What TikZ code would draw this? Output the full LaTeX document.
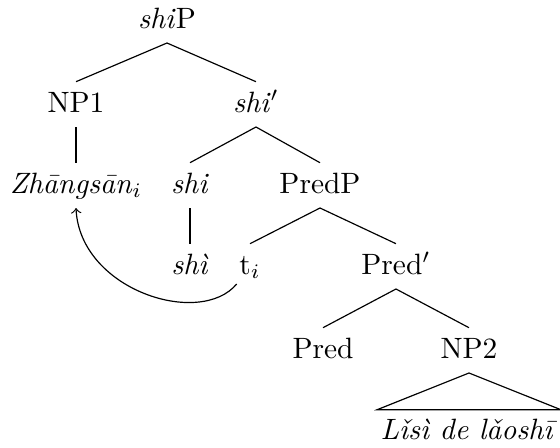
\documentclass[tikz,border=0pt]{standalone}
\usepackage{fontspec}
\begin{document}
\begin{tikzpicture}[x=0.34pt,y=-0.34pt,
  lab/.style={anchor=base,text height=7pt,text depth=1.8pt,inner sep=3.1pt}]
\useasboundingbox (0,0) rectangle (560,448);
\node[lab] (shiP) at (167,28) {\textit{shi}P};
\node[lab] (NP1) at (76,112) {NP1};
\node[lab] (shibar) at (256,112) {\textit{shi}$'$};
\node[lab] (Zh) at (76,193) {\textit{Zhāngsān}$_i$};
\node[lab] (shi) at (190,193) {\textit{shi}};
\node[lab] (PredP) at (320,193) {PredP};
\node[lab] (shi4) at (190,274) {\textit{shì}};
\node[lab] (t) at (250,274) {t$_i$};
\node[lab] (Predbar) at (396,274) {Pred$'$};
\node[lab] (Pred) at (323,358) {Pred};
\node[lab] (NP2) at (469,358) {NP2};
\node[lab,inner xsep=1pt] (L) at (469,440) {\textit{Lǐsì de lǎoshī}};
\draw (shiP.south) -- (NP1.north);
\draw (shiP.south) -- (shibar.north);
\draw (NP1.south) -- (Zh.north);
\draw (shibar.south) -- (shi.north);
\draw (shibar.south) -- (PredP.north);
\draw (shi.south) -- (shi4.north);
\draw (PredP.south) -- (t.north);
\draw (PredP.south) -- (Predbar.north);
\draw (Predbar.south) -- (Pred.north);
\draw (Predbar.south) -- (NP2.north);
\draw (NP2.south) -- (L.north west) -- (L.north east) -- cycle;
\draw[->] ([shift={(7,-5)}]t.south west) .. controls (200,328) and (80,290) .. (Zh.south);
\end{tikzpicture}
\end{document}
